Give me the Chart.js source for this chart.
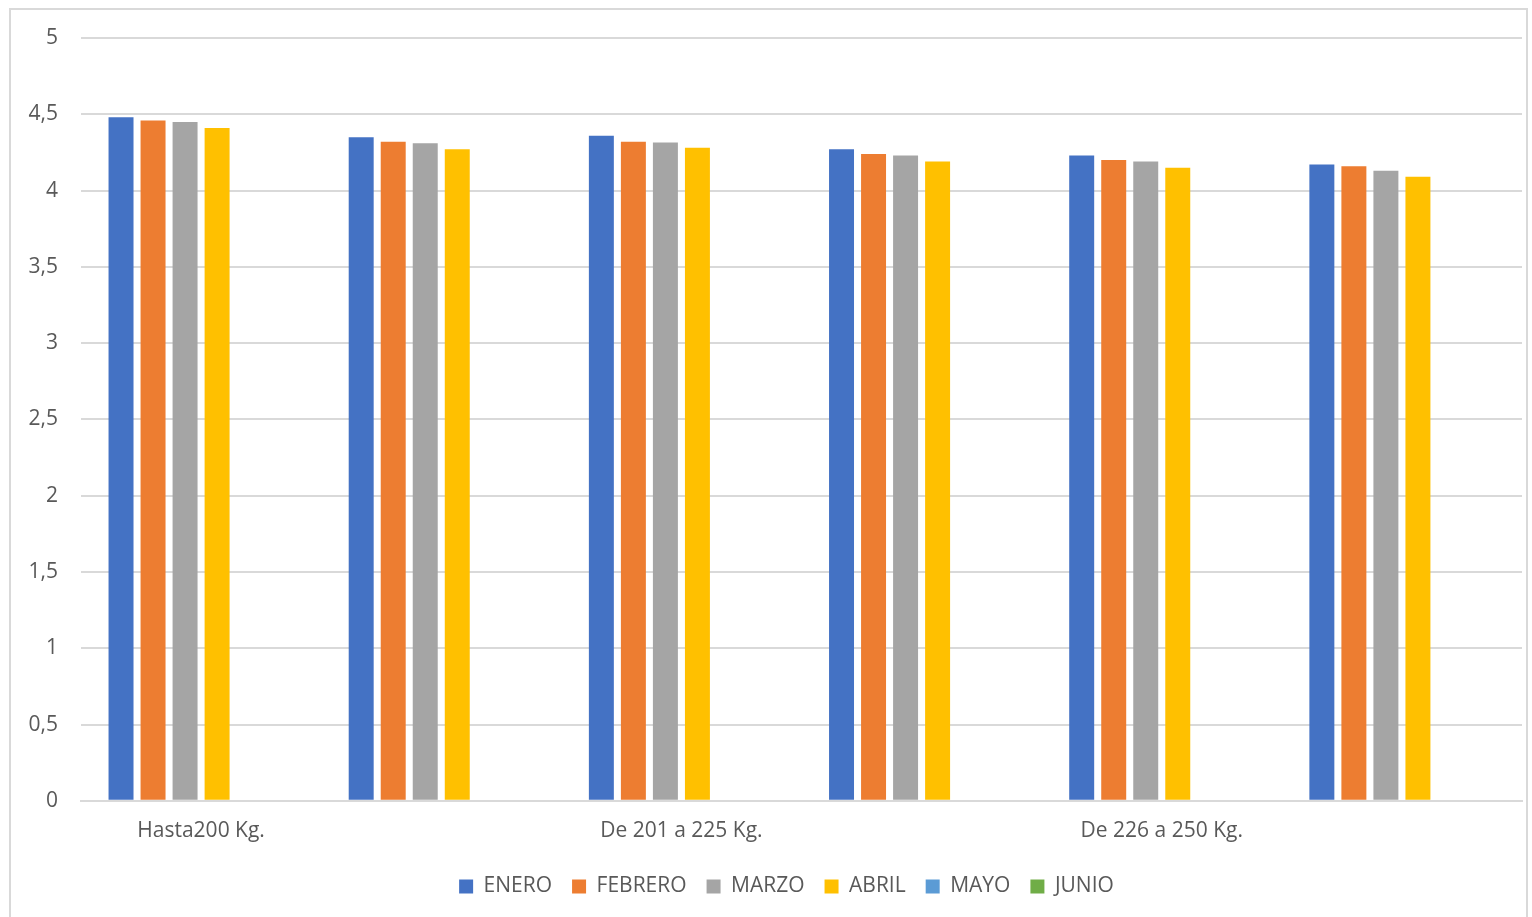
<!DOCTYPE html>
<html>
<head>
<meta charset="utf-8">
<script src="https://cdn.jsdelivr.net/npm/chart.js@4"></script>
<style>
  html, body { margin: 0; padding: 0; background: #fff; overflow: hidden; }
  #frame { position: absolute; left: 9px; top: 8px; width: 1519px; height: 920px; border: 2px solid #d9d9d9; box-sizing: border-box; }
  #wrap { position: absolute; left: 0; top: 0; width: 1532px; height: 917px; }
</style>
</head>
<body>
<div id="frame"></div>
<div id="wrap"><canvas id="c"></canvas></div>
<script>
const categories = ['Hasta200 Kg.', '', 'De 201 a 225 Kg.', '', 'De 226 a 250 Kg.', ''];
const seriesNames = ['ENERO', 'FEBRERO', 'MARZO', 'ABRIL', 'MAYO', 'JUNIO'];
const enero   = [4.48, 4.35, 4.36, 4.27, 4.23, 4.17];
const febrero = [4.46, 4.32, 4.32, 4.24, 4.20, 4.16];
const marzo   = [4.45, 4.31, 4.315, 4.23, 4.19, 4.13];
const abril   = [4.41, 4.27, 4.28, 4.19, 4.15, 4.09];
const mayo    = [null, null, null, null, null, null];
const junio   = [null, null, null, null, null, null];
const yTicks  = ['0', '0,5', '1', '1,5', '2', '2,5', '3', '3,5', '4', '4,5', '5'];
const colors  = ['#4472C4', '#ED7D31', '#A5A5A5', '#FFC000', '#5B9BD5', '#70AD47'];

const values = [enero, febrero, marzo, abril, mayo, junio];
const FONT = "'Open Sans', 'Liberation Sans', sans-serif";
const TXT = '#595959';

const legendShift = {
  id: 'legendShift',
  afterLayout(chart) {
    const l = chart.legend;
    if (!l) return;
    const dx = 23, dy = -6;
    l.left += dx; l.right += dx;
    l.top += dy; l.bottom += dy;
    if (l.legendHitBoxes) l.legendHitBoxes.forEach(h => { h.left += dx; h.top += dy; });
  }
};

new Chart(document.getElementById('c'), {
  type: 'bar',
  data: {
    labels: categories,
    datasets: seriesNames.map((n, i) => ({
      label: n,
      data: values[i],
      backgroundColor: colors[i],
      borderWidth: 0,
      categoryPercentage: 0.8,
      barPercentage: 0.78
    }))
  },
  options: {
    responsive: true,
    maintainAspectRatio: false,
    animation: false,
    layout: { padding: { left: 5, right: 10, top: 38, bottom: 4 } },
    plugins: {
      tooltip: { enabled: false },
      legend: {
        position: 'bottom',
        labels: {
          boxWidth: 14, boxHeight: 14, padding: 20,
          color: TXT,
          font: { family: FONT, size: 21 }
        }
      }
    },
    scales: {
      x: {
        grid: { display: false, drawTicks: false },
        border: { display: true, color: '#d9d9d9', width: 2 },
        ticks: {
          autoSkip: false, maxRotation: 0, padding: 18,
          color: TXT, font: { family: FONT, size: 21 }
        }
      },
      y: {
        min: 0, max: 5,
        afterFit: s => { s.width = 76; },
        grid: { color: '#d9d9d9', lineWidth: 2, drawTicks: false },
        border: { display: false },
        ticks: {
          stepSize: 0.5, padding: 23,
          color: TXT, font: { family: FONT, size: 21 },
          callback: (v, i) => yTicks[i]
        }
      }
    }
  },
  plugins: [legendShift]
});
</script>
</body>
</html>
